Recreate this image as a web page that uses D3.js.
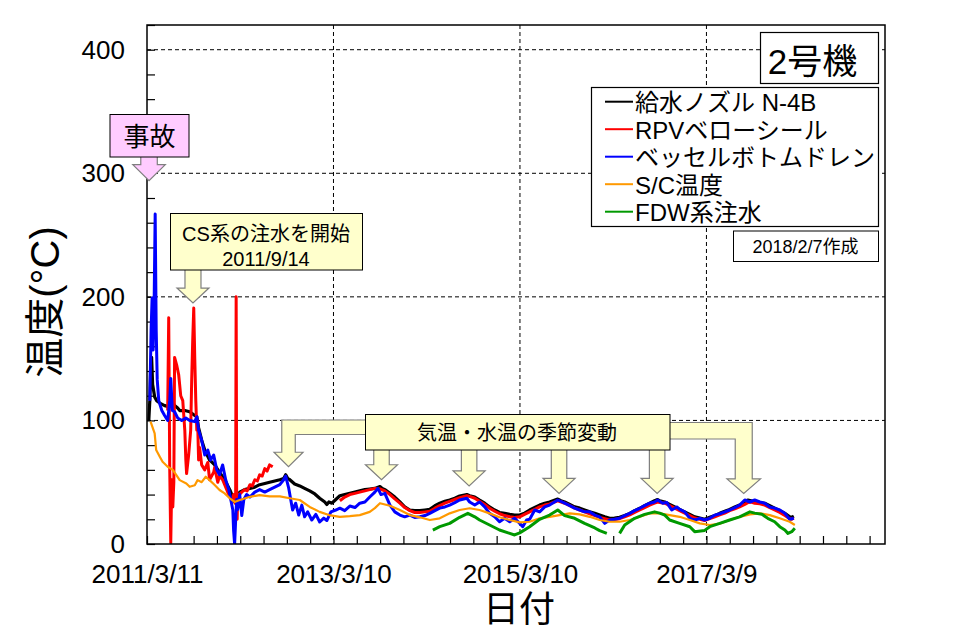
<!DOCTYPE html>
<html>
<head>
<meta charset="utf-8">
<script src="https://cdn.jsdelivr.net/npm/d3@7"></script>
<style>
  body { margin: 0; background: #fff; }
  svg { display: block; }
</style>
</head>
<body>
<div id="chart"></div>
<script>
// 2号機 温度推移 (日付 = 2011/3/11 からの経過日数)
const xMajorDays = [0, 730, 1460, 2190]
const xMajorLabels = ["2011/3/11", "2013/3/10", "2015/3/10", "2017/3/9"]
const yMajor = [0, 100, 200, 300, 400]

const seriesNames = ["給水ノズル N-4B", "RPVベローシール", "ベッセルボトムドレン", "S/C温度", "FDW系注水"]
const seriesColors = ["#000000", "#ff0000", "#0000ff", "#ff9900", "#009900"]
const seriesWidths = [3.2, 3, 3, 2.2, 3]

// [経過日数, 温度]
const nozzleN4B = [[7,100],[11,116],[14,141],[18,151],[22,129],[30,119],[38,116],[50,114],[69,112],[89,111],[97,116],[108,112],[120,110],[128,108],[148,108],[167,107],[187,104],[195,103],[202,94],[214,84],[226,76],[245,68],[265,64],[284,58],[304,52],[324,44],[336,38],[343,34],[351,37],[363,42],[382,44],[403,45],[422,46],[441,48],[461,49],[480,50],[500,51],[520,52],[535,53],[543,56],[551,53],[559,52],[578,48.5],[598,47],[617,45],[637,43],[657,40.5],[676,37],[696,34],[704,32],[712,34],[724,33],[739,36],[755,39],[774,40],[794,41],[814,42],[833,43],[853,44],[872,44.5],[892,45],[912,46.5],[921,45],[931,44],[951,41],[970,38],[990,34],[1009,30],[1029,27.5],[1048,27],[1068,27],[1088,27.5],[1107,28],[1127,31],[1146,33],[1166,34.5],[1185,35.6],[1205,37],[1224,38.8],[1252,40],[1263,39],[1283,38],[1302,35.5],[1322,33],[1341,30],[1361,27.5],[1380,25.5],[1400,24.8],[1420,24],[1439,23.4],[1459,23.4],[1478,25],[1498,27.5],[1518,29.5],[1537,31.5],[1557,33],[1576,34],[1608,36.4],[1620,35],[1635,34],[1655,32],[1674,30],[1694,29],[1713,27.5],[1733,26],[1753,24.8],[1772,23.4],[1792,22],[1811,20.8],[1830,21],[1850,21.6],[1870,23],[1890,24.8],[1909,27],[1929,28.9],[1948,31],[1968,33],[1987,35],[1999,36],[2007,35],[2027,34],[2046,32],[2066,30],[2085,28],[2105,26],[2125,24],[2144,22],[2164,21],[2183,20],[2203,21.6],[2223,23],[2242,24.8],[2262,26.5],[2281,28],[2301,30],[2320,31.5],[2340,33.5],[2352,35.6],[2365,35],[2379,34],[2399,33.5],[2418,33],[2438,31],[2457,29],[2477,27],[2497,24.8],[2516,22],[2524,21.6],[2532,22.5]]

const rpvBellows = [[81,108],[85,183],[89,60],[93,1],[97,52],[101,30],[105,50],[108,151],[116,145],[124,137],[132,120],[140,116],[148,92],[152,68],[155,57],[163,72],[171,92],[175,133],[179,165],[183,191],[187,150],[191,116],[195,92],[198,100],[202,68],[206,78],[214,64],[226,60],[238,66],[245,52],[261,58],[265,62],[277,50],[284,55],[296,52],[304,48],[316,42],[324,38],[332,35],[339,40],[345,33],[347,40],[349,200],[351,40],[353,20],[355,40],[363,40.4],[371,42],[382,44],[392,43],[403,48],[412,47],[422,52],[432,51],[441,56],[451,55],[461,61],[470,59],[480,64],[492,62.5],[492,null],
  [755,35],[774,38],[794,40],[814,41],[833,42],[853,43],[872,44],[892,45],[912,44.5],[931,43],[951,40],[970,36.5],[990,33],[1009,29.5],[1029,27],[1048,25.5],[1068,25.5],[1088,26],[1107,26.5],[1127,29],[1146,31],[1166,33],[1185,34.5],[1205,36],[1224,37.5],[1252,39],[1263,38.5],[1283,37],[1302,34.5],[1322,32],[1341,29],[1361,26.5],[1380,24.5],[1400,23],[1420,22],[1439,21.5],[1459,22],[1478,24],[1498,26],[1518,28],[1537,30],[1557,31.5],[1576,32.5],[1608,35],[1635,33],[1655,31],[1674,29],[1694,27.5],[1713,26],[1733,24.5],[1753,23],[1772,21.5],[1792,20.5],[1811,19.5],[1830,19.8],[1850,20.5],[1870,22],[1890,23.5],[1909,25.5],[1929,27.5],[1948,29.5],[1968,31.5],[1987,33],[1999,34],[2007,33.5],[2027,33],[2046,31],[2066,29],[2085,27],[2105,25],[2125,23],[2144,21],[2164,20],[2183,19],[2203,20.5],[2223,22],[2242,23.5],[2262,25],[2281,27],[2301,28.5],[2320,30],[2340,32],[2352,33.5],[2365,34],[2379,33],[2399,32.5],[2418,31.5],[2438,29.5],[2457,27.5],[2477,25.5],[2497,23],[2516,20.5],[2524,20],[2532,21]]

const bottomDrain = [[11,116],[16,173],[20,199],[24,157],[28,197],[32,267],[36,173],[40,133],[46,116],[58,108],[69,104],[81,100],[89,116],[93,134],[99,108],[108,107],[120,102],[136,100],[152,102],[167,100],[187,99],[195,103],[202,92],[214,84],[226,72],[238,76],[249,68],[261,72],[273,60],[284,56],[296,64],[308,52],[320,44],[328,36],[336,27.5],[339,11],[343,0],[347,19],[351,36],[355,28],[363,40],[371,23],[379,36],[390,40],[403,38],[422,42],[441,44],[461,42],[480,44],[500,46],[520,48],[535,52],[543,55],[555,45],[563,35.6],[570,27.5],[582,33],[594,23.4],[606,31.5],[617,22],[629,26],[645,19.4],[661,24],[676,17.8],[692,21],[704,19],[720,26],[739,27.5],[755,29],[774,27],[794,30.7],[814,29.5],[833,33],[853,34],[872,38],[892,42],[904,45],[916,40],[931,41],[951,31.5],[970,26],[990,23.4],[1009,22],[1029,23.4],[1048,21.5],[1068,22],[1088,23],[1107,24.8],[1127,27],[1146,29],[1166,30],[1185,31.5],[1205,33.5],[1224,35.6],[1252,37],[1263,34],[1283,31.5],[1302,34],[1322,30],[1341,24.8],[1361,22],[1380,18],[1400,20.8],[1420,18],[1439,20.8],[1459,16.7],[1471,14],[1486,19.4],[1498,20],[1518,27.5],[1537,26],[1557,30],[1576,31.5],[1608,35.6],[1635,33],[1655,31],[1674,29],[1694,27.5],[1713,26],[1733,26],[1753,23.4],[1772,22],[1792,16.7],[1811,19.4],[1830,20],[1850,20.8],[1870,23],[1890,24.8],[1909,27],[1929,28.9],[1948,31],[1968,33],[1987,34],[1999,35.6],[2019,33],[2035,33.5],[2054,27.5],[2074,30],[2085,28],[2105,26],[2125,20.8],[2144,19.4],[2164,20.8],[2183,19.4],[2203,20.8],[2223,23.4],[2242,24.5],[2262,26],[2281,27.5],[2301,29.5],[2320,31.5],[2340,35.6],[2360,34],[2379,35.6],[2399,34],[2418,33],[2438,30],[2457,29],[2477,27.5],[2497,24.8],[2516,20],[2532,20.8]]

const scTemp = [[14,99],[30,89.5],[36,76],[50,70.6],[61,66.5],[81,62.5],[101,60],[115,55.8],[128,51.7],[154,49],[167,46.3],[187,47.5],[198,51.7],[214,50],[230,54.4],[245,51.7],[265,47.7],[284,43.7],[304,41],[324,37],[343,34],[363,35.6],[403,38.2],[441,39.6],[480,38.5],[520,38.5],[559,37],[598,35.6],[637,30],[676,26],[712,23.4],[755,22],[794,22.5],[833,23.4],[872,26],[892,29],[912,33],[951,31],[990,27.5],[1029,23.4],[1068,21.6],[1107,19.4],[1146,20.8],[1185,24.8],[1224,27.5],[1263,28.9],[1302,27.5],[1341,24.8],[1380,21.6],[1420,19.4],[1459,17.5],[1498,18],[1537,20.8],[1576,22],[1615,23.4],[1655,24.8],[1694,24],[1733,22],[1772,19.4],[1811,18],[1850,18],[1890,19.4],[1929,22],[1968,24.8],[2007,24.8],[2046,23.4],[2085,22],[2125,19.4],[2164,16.7],[2203,15.4],[2242,16.5],[2281,19.4],[2320,22],[2360,24],[2399,24.8],[2438,23.4],[2477,20.8],[2516,18],[2536,15.4]]

const fdwLine = [[1119,11.3],[1146,14],[1185,16.7],[1224,21.6],[1256,24.8],[1283,22],[1302,19.4],[1341,15.4],[1380,11.3],[1420,8.6],[1439,7.3],[1459,9],[1498,14],[1537,20],[1576,23.4],[1608,27.5],[1635,23],[1674,20.8],[1713,16.7],[1753,13],[1772,10.8],[1800,8.6],[1800,null],[1850,8.6],[1870,15.4],[1909,20.8],[1948,24],[1987,26],[2007,25],[2027,23.4],[2046,19.4],[2085,16.7],[2125,14],[2144,10],[2183,11],[2203,14],[2242,16.7],[2281,19.4],[2320,22],[2360,26],[2379,25],[2407,24],[2430,20.8],[2457,18],[2477,14],[2497,11.3],[2509,8.6],[2524,10],[2536,12.7]]

// 注釈 (矢印の先端: 経過日数, 温度)
const accidentTip = [8, 294]
const csTip = [180, 195]
const seasonTipDays = [554, 918, 1261, 1613, 1997, 2336]
const seasonTipTemps = [62.5, 52, 47, 41, 41, 41]

const FONT = '"Liberation Sans", Arial, "Noto Sans CJK JP", sans-serif'
const W = 977, H = 638
const L = 147, R = 885, T = 25, B = 544

let svg = d3.select("#chart").append("svg")
    .attr("width", W).attr("height", H)
    .style("font-family", FONT)

let xScale = d3.scaleLinear().domain([0, 2889]).range([L, R])
let yScale = d3.scaleLinear().domain([0, 420]).range([B, T])

// grid
svg.append("g").selectAll("line")
    .data(yMajor.filter(d => d > 0)).enter()
    .append("line")
    .attr("x1", L).attr("x2", R)
    .attr("y1", d => yScale(d)).attr("y2", d => yScale(d))
    .attr("stroke", "#000").attr("stroke-width", 1).attr("stroke-dasharray", "4,3")
svg.append("g").selectAll("line")
    .data(xMajorDays.filter(d => d > 0)).enter()
    .append("line")
    .attr("y1", T).attr("y2", B)
    .attr("x1", d => xScale(d)).attr("x2", d => xScale(d))
    .attr("stroke", "#000").attr("stroke-width", 1).attr("stroke-dasharray", "4,3")

// axes (ticks inward)
let yAxis = d3.axisLeft(yScale)
    .tickValues(d3.range(0, 421, 20))
    .tickSize(-8).tickPadding(22)
    .tickFormat(d => yMajor.includes(d) ? d : "")
let gy = svg.append("g").attr("transform", `translate(${L},0)`).call(yAxis)
gy.select(".domain").remove()
gy.selectAll("text").style("font-size", "26px").style("font-family", FONT).attr("fill", "#000")
gy.selectAll("line").attr("stroke-width", 1.2)

let xAxis = d3.axisBottom(xScale)
    .tickValues(d3.range(0, 2889, 91.25))
    .tickSize(-8).tickPadding(21)
    .tickFormat(d => {
        let i = xMajorDays.indexOf(d)
        return i >= 0 ? xMajorLabels[i] : ""
    })
let gx = svg.append("g").attr("transform", `translate(0,${B})`).call(xAxis)
gx.select(".domain").remove()
gx.selectAll("text").style("font-size", "26px").style("font-family", FONT).attr("fill", "#000")
gx.selectAll("line").attr("stroke-width", 1.2)

// data lines
svg.append("clipPath").attr("id", "plotClip")
    .append("rect").attr("x", L).attr("y", T).attr("width", R - L).attr("height", B - T)
let line = d3.line()
    .defined(d => d[1] != null)
    .x(d => xScale(d[0]))
    .y(d => yScale(d[1]))
let allSeries = [nozzleN4B, rpvBellows, bottomDrain, scTemp, fdwLine]
svg.append("g").attr("clip-path", "url(#plotClip)")
    .selectAll("path")
    .data(allSeries).enter()
    .append("path")
    .attr("d", d => line(d))
    .attr("fill", "none")
    .attr("stroke", (d, i) => seriesColors[i])
    .attr("stroke-width", (d, i) => seriesWidths[i])
    .attr("stroke-linejoin", "round")

// frame
svg.append("rect").attr("x", L).attr("y", T).attr("width", R - L).attr("height", B - T)
    .attr("fill", "none").attr("stroke", "#000").attr("stroke-width", 1.5)

// axis titles
svg.append("text")
    .attr("transform", "translate(45,302) rotate(-90)")
    .attr("text-anchor", "middle").attr("dominant-baseline", "central")
    .style("font-size", "40px").text("温度(°C)")
svg.append("text")
    .attr("x", 519).attr("y", 609)
    .attr("text-anchor", "middle").attr("dominant-baseline", "central")
    .style("font-size", "36px").text("日付")

// annotations
const YEL = "#ffffcc", PINK = "#ffccff", ARROW_EDGE = "#7f7f7f"
function downArrow(g, cx, top, tip, sw, hw, hh, fill) {
    let pts = [[cx - sw / 2, top], [cx + sw / 2, top], [cx + sw / 2, tip - hh], [cx + hw / 2, tip - hh],
        [cx, tip], [cx - hw / 2, tip - hh], [cx - sw / 2, tip - hh]]
    g.append("polygon").attr("points", pts.join(" "))
        .attr("fill", fill).attr("stroke", ARROW_EDGE).attr("stroke-width", 1.2)
}
function bentArrow(g, edgeX, bandTop, bandBot, cx, tip, sw, hw, hh, side) {
    let o = side * sw / 2
    let pts = [[edgeX, bandTop], [cx + o, bandTop], [cx + o, tip - hh], [cx + side * hw / 2, tip - hh],
        [cx, tip], [cx - side * hw / 2, tip - hh], [cx - o, tip - hh], [cx - o, bandBot], [edgeX, bandBot]]
    g.append("polygon").attr("points", pts.join(" "))
        .attr("fill", YEL).attr("stroke", ARROW_EDGE).attr("stroke-width", 1.2)
}
let ann = svg.append("g")

// 事故
downArrow(ann, xScale(accidentTip[0]), 156, yScale(accidentTip[1]), 16.5, 32.5, 16, PINK)
ann.append("rect").attr("x", 110).attr("y", 114.5).attr("width", 79).attr("height", 42.5)
    .attr("fill", PINK).attr("stroke", "#000").attr("stroke-width", 1)
ann.append("text").attr("x", 149.5).attr("y", 137).attr("text-anchor", "middle")
    .attr("dominant-baseline", "central").style("font-size", "26px").text("事故")

// CS系の注水を開始
downArrow(ann, xScale(csTip[0]), 269, yScale(csTip[1]), 16, 32, 15, YEL)
ann.append("rect").attr("x", 170.5).attr("y", 213.5).attr("width", 192).attr("height", 56.5)
    .attr("fill", YEL).attr("stroke", "#000").attr("stroke-width", 1)
ann.append("text").attr("x", 266).attr("y", 233.5).attr("text-anchor", "middle")
    .attr("dominant-baseline", "central").style("font-size", "20px").text("CS系の注水を開始")
ann.append("text").attr("x", 266).attr("y", 259).attr("text-anchor", "middle")
    .attr("dominant-baseline", "central").style("font-size", "20px").text("2011/9/14")

// 気温・水温の季節変動
let sx = seasonTipDays.map(d => xScale(d))
let sy = seasonTipTemps.map(d => yScale(d))
bentArrow(ann, 366, 420, 434.5, sx[0], sy[0], 13.5, 29, 14.5, -1)
bentArrow(ann, 669, 422.5, 439, sx[5], sy[5], 17, 33.5, 14.5, 1)
for (let i = 1; i < 5; i++) {
    downArrow(ann, sx[i], 449, sy[i], 15.5, 32, 15, YEL)
}
ann.append("rect").attr("x", 365.5).attr("y", 414.5).attr("width", 304.5).attr("height", 35.5)
    .attr("fill", YEL).attr("stroke", "#000").attr("stroke-width", 1)
ann.append("text").attr("x", 517).attr("y", 433).attr("text-anchor", "middle")
    .attr("dominant-baseline", "central").style("font-size", "20px").text("気温・水温の季節変動")

// 2号機
svg.append("rect").attr("x", 760.5).attr("y", 32.5).attr("width", 118).attr("height", 51)
    .attr("fill", "#fff").attr("stroke", "#000").attr("stroke-width", 1.2)
svg.append("text").attr("x", 812.5).attr("y", 61).attr("text-anchor", "middle")
    .attr("dominant-baseline", "central").style("font-size", "35px").text("2号機")

// legend
let lg = svg.append("g")
lg.append("rect").attr("x", 591.5).attr("y", 87.5).attr("width", 287).attr("height", 139)
    .attr("fill", "#fff").attr("stroke", "#000").attr("stroke-width", 1.2)
seriesNames.forEach((name, i) => {
    let cy = 101.7 + i * 27.5
    lg.append("line").attr("x1", 605).attr("x2", 633).attr("y1", cy).attr("y2", cy)
        .attr("stroke", seriesColors[i]).attr("stroke-width", 2)
    lg.append("text").attr("x", 635).attr("y", cy + 1).attr("dominant-baseline", "central")
        .style("font-size", "24px").text(name)
})

// 作成日
svg.append("rect").attr("x", 733.5).attr("y", 231).attr("width", 145).attr("height", 30.5)
    .attr("fill", "#fff").attr("stroke", "#000").attr("stroke-width", 1)
svg.append("text").attr("x", 805.5).attr("y", 247).attr("text-anchor", "middle")
    .attr("dominant-baseline", "central").style("font-size", "18px").text("2018/2/7作成")
</script>
</body>
</html>
